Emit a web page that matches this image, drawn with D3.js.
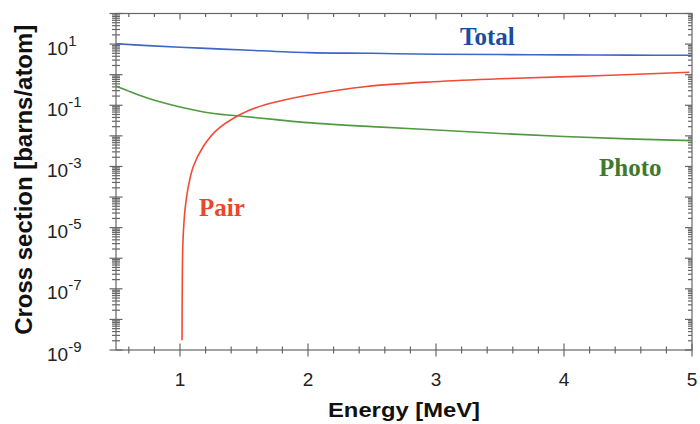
<!DOCTYPE html>
<html>
<head>
<meta charset="utf-8">
<script src="https://cdn.jsdelivr.net/npm/d3@7"></script>
<style>
  body { margin: 0; background: #fff; }
  svg { display: block; }
</style>
</head>
<body>
<svg id="chart" width="700" height="424"></svg>
<script>
// values
const totalE = [0.5, 0.75, 1, 1.25, 1.5, 2, 2.5, 3, 3.5, 4, 4.5, 5];
const totalV = [10.3, 8.9, 7.9, 7.1, 6.4, 5.25, 5.0, 4.65, 4.55, 4.45, 4.35, 4.3];

const photoE = [0.5, 0.6, 0.7, 0.8, 1, 1.25, 1.5, 1.75, 2, 2.5, 3, 3.5, 4, 4.5, 5];
const photoV = [0.43, 0.29, 0.20, 0.145, 0.088, 0.055, 0.043, 0.034, 0.027, 0.020, 0.0155, 0.0120, 0.0095, 0.0080, 0.0070];

const pairE = [1.016, 1.017, 1.021, 1.026, 1.039, 1.065, 1.104, 1.182, 1.287, 1.463, 1.6, 1.755, 2.016, 2.458, 2.98, 3.5, 4.2, 4.98];
const pairV = [2.1e-9, 4.4e-8, 1.9e-6, 6.6e-6, 3.8e-5, 2.2e-4, 1e-3, 4.5e-3, 0.0155, 0.048, 0.085, 0.13, 0.22, 0.41, 0.59, 0.74, 0.91, 1.2];

const xTickLabels = [1, 2, 3, 4, 5];
const yLabelExps = [1, -1, -3, -5, -7, -9];

const series = [
    {name: "Total", e: totalE, v: totalV, line: "#3f66c6", text: "#1a4ca0", lx: 460, ly: 45},
    {name: "Photo", e: photoE, v: photoV, line: "#4f9a3f", text: "#3f7a2c", lx: 599, ly: 176},
    {name: "Pair", e: pairE, v: pairV, line: "#f24a35", text: "#e8472b", lx: 199, ly: 216}
];

const svg = d3.select("#chart");
const pLeft = 116, pRight = 692, pTop = 13.5, pBottom = 350;
const axisColor = "#666";

const x = d3.scaleLinear().domain([0.5, 5]).range([pLeft, pRight]);
const y = d3.scaleLog().domain([1e-9, 1e2]).range([pBottom, pTop]);

// frame
svg.append("rect")
    .attr("x", pLeft).attr("y", pTop)
    .attr("width", pRight - pLeft).attr("height", pBottom - pTop)
    .attr("fill", "none").attr("stroke", axisColor).attr("stroke-width", 1.2);

const ticksG = svg.append("g").attr("stroke", axisColor).attr("stroke-width", 1.2);

// x ticks every 0.2
const xt = d3.range(6, 51, 2).map(d => d / 10);
xt.forEach(t => {
    const major = Math.abs(t - Math.round(t)) < 1e-6;
    const len = major ? 6.5 : 3.5;
    ticksG.append("line")
        .attr("x1", x(t)).attr("x2", x(t))
        .attr("y1", pBottom - len).attr("y2", pBottom + len);
    ticksG.append("line")
        .attr("x1", x(t)).attr("x2", x(t))
        .attr("y1", pTop).attr("y2", pTop + (major ? 6 : 3.5));
});

// y ticks, decades and minors
const yt = y.ticks(40);
yt.forEach(t => {
    const lg = Math.log10(t);
    const major = Math.abs(lg - Math.round(lg)) < 1e-6;
    const len = major ? 6.5 : 4;
    ticksG.append("line")
        .attr("x1", pLeft - len).attr("x2", pLeft + len)
        .attr("y1", y(t)).attr("y2", y(t));
    ticksG.append("line")
        .attr("x1", pRight - (major ? 7 : 4)).attr("x2", pRight)
        .attr("y1", y(t)).attr("y2", y(t));
});

// tick labels
svg.append("g").selectAll("text")
    .data(xTickLabels)
    .join("text")
    .attr("x", d => x(d))
    .attr("y", 386)
    .attr("text-anchor", "middle")
    .attr("font-family", "Liberation Sans, Arial, sans-serif")
    .attr("font-size", 19)
    .attr("fill", "#222")
    .text(d => d);

const yl = svg.append("g").selectAll("text")
    .data(yLabelExps)
    .join("text")
    .attr("x", 47)
    .attr("y", d => y(Math.pow(10, d)) + 10.5)
    .attr("font-family", "Liberation Sans, Arial, sans-serif")
    .attr("font-size", 19)
    .attr("fill", "#222");
yl.append("tspan").text("10");
yl.append("tspan")
    .attr("dy", -9)
    .attr("font-size", 15)
    .text(d => d);

// axis titles
svg.append("text")
    .attr("x", (pLeft + pRight) / 2)
    .attr("y", 417)
    .attr("text-anchor", "middle")
    .attr("font-family", "Liberation Sans, Arial, sans-serif")
    .attr("font-weight", "bold")
    .attr("font-size", 21)
    .attr("textLength", 152)
    .attr("lengthAdjust", "spacingAndGlyphs")
    .attr("fill", "#111")
    .text("Energy [MeV]");

svg.append("text")
    .attr("transform", `translate(32,${(pTop + pBottom) / 2 - 2}) rotate(-90)`)
    .attr("text-anchor", "middle")
    .attr("font-family", "Liberation Sans, Arial, sans-serif")
    .attr("font-weight", "bold")
    .attr("font-size", 23)
    .attr("textLength", 310)
    .attr("lengthAdjust", "spacingAndGlyphs")
    .attr("fill", "#111")
    .text("Cross section [barns/atom]");

// curves
const line = d3.line()
    .x(d => x(d[0]))
    .y(d => y(d[1]))
    .curve(d3.curveCatmullRom.alpha(0.5));

series.forEach(s => {
    svg.append("path")
        .datum(d3.zip(s.e, s.v))
        .attr("d", line)
        .attr("fill", "none")
        .attr("stroke", s.line)
        .attr("stroke-width", 1.6);
    svg.append("text")
        .attr("x", s.lx)
        .attr("y", s.ly)
        .attr("font-family", "Liberation Serif, Times New Roman, serif")
        .attr("font-weight", "bold")
        .attr("font-size", 25)
        .attr("fill", s.text)
        .text(s.name);
});
</script>
</body>
</html>
